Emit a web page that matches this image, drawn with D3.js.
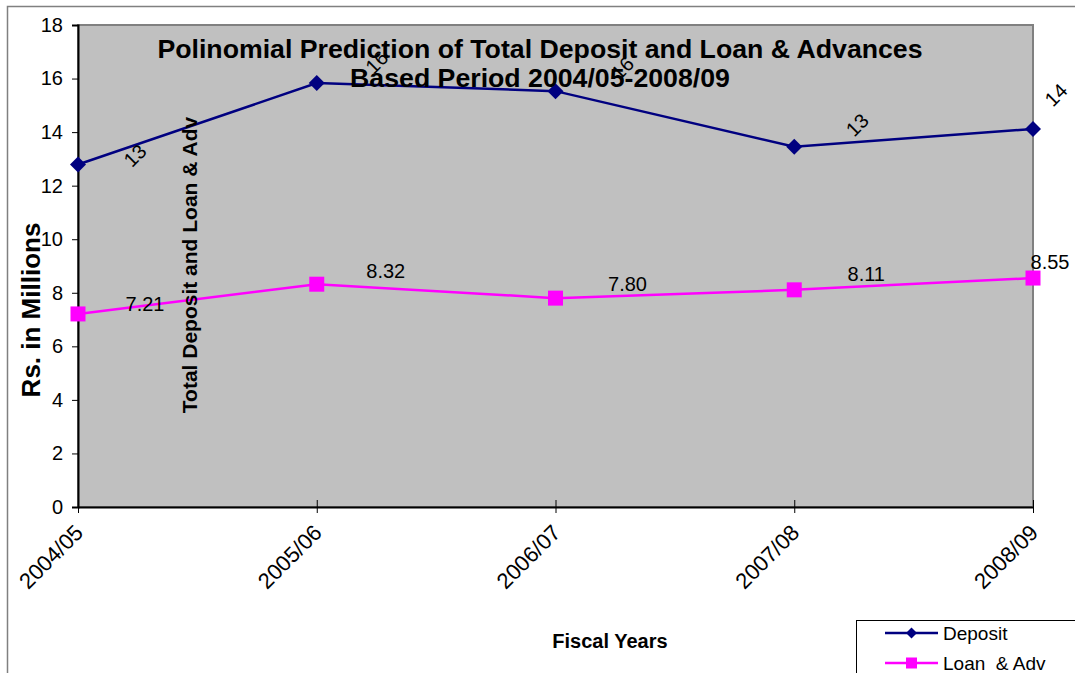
<!DOCTYPE html>
<html>
<head>
<meta charset="utf-8">
<script src="https://cdn.jsdelivr.net/npm/d3@7"></script>
<style>
  html, body { margin: 0; padding: 0; background: #fff; }
  svg { display: block; font-family: "Liberation Sans", Arial, sans-serif; }
</style>
</head>
<body>
<svg id="chart" width="1075" height="673"></svg>
<script>
// ---- data ----
const years = ["2004/05", "2005/06", "2006/07", "2007/08", "2008/09"];
const deposit = [12.79, 15.83, 15.53, 13.45, 14.12];
const depositLabels = ["13", "16", "16", "13", "14"];
const loanAdv = [7.21, 8.32, 7.80, 8.11, 8.55];
const loanLabels = ["7.21", "8.32", "7.80", "8.11", "8.55"];
const yTicks = [0, 2, 4, 6, 8, 10, 12, 14, 16, 18];
const seriesNames = ["Deposit", "Loan  & Adv"];
const titleLines = ["Polinomial Prediction of Total Deposit and Loan & Advances", "Based Period 2004/05-2008/09"];

// ---- layout ----
const W = 1075, H = 673;
const plot = { left: 78, right: 1033, top: 25, bottom: 507 };
const navy = "#000080", magenta = "#FF00FF";
const diamond = r => `M0,${-r}L${r},0L0,${r}L${-r},0Z`;

const svg = d3.select("#chart");

const x = d3.scalePoint().domain(years).range([plot.left, plot.right]);
const y = d3.scaleLinear().domain([0, 18]).range([plot.bottom, plot.top]);

// outer chart border
svg.append("rect")
  .attr("x", 7.5).attr("y", 6.5)
  .attr("width", W + 20).attr("height", H + 20)
  .attr("fill", "#fff").attr("stroke", "#808080").attr("stroke-width", 1.5);

// plot area
svg.append("rect")
  .attr("x", plot.left).attr("y", plot.top)
  .attr("width", plot.right - plot.left).attr("height", plot.bottom - plot.top)
  .attr("fill", "#C0C0C0").attr("stroke", "#808080").attr("stroke-width", 2);

// y axis
const yAxis = svg.append("g")
  .attr("transform", `translate(${plot.left},0)`)
  .call(d3.axisLeft(y).tickValues(yTicks).tickSize(6).tickPadding(9).tickFormat(d3.format("d")));
yAxis.select(".domain").attr("stroke", "#000").attr("stroke-width", 2);
yAxis.selectAll(".tick line").attr("stroke", "#000").attr("stroke-width", 1);
yAxis.selectAll("text").attr("font-size", 20).attr("fill", "#000")
  .attr("font-family", "Liberation Sans, Arial, sans-serif");

// x axis
const xAxis = svg.append("g")
  .attr("transform", `translate(0,${plot.bottom})`)
  .call(d3.axisBottom(x).tickSize(6).tickSizeOuter(0));
xAxis.select(".domain").attr("stroke", "#000").attr("stroke-width", 2);
xAxis.selectAll(".tick line").attr("stroke", "#000").attr("y1", -7).attr("y2", 6);
xAxis.selectAll("text")
  .attr("font-size", 22).attr("fill", "#000")
  .attr("font-family", "Liberation Sans, Arial, sans-serif")
  .attr("text-anchor", "end")
  .attr("dy", null)
  .attr("y", 0).attr("x", 0)
  .attr("transform", "translate(6,27) rotate(-45)");

// lines
const line = d3.line().x((d, i) => x(years[i])).y(d => y(d));

svg.append("path").datum(deposit)
  .attr("d", line).attr("fill", "none").attr("stroke", navy).attr("stroke-width", 2.5);
svg.append("path").datum(loanAdv)
  .attr("d", line).attr("fill", "none").attr("stroke", magenta).attr("stroke-width", 2.5);

// markers
svg.selectAll(".dep").data(deposit).enter().append("path")
  .attr("d", diamond(8))
  .attr("transform", (d, i) => `translate(${x(years[i])},${y(d)})`)
  .attr("fill", navy);
svg.selectAll(".loan").data(loanAdv).enter().append("rect")
  .attr("x", (d, i) => x(years[i]) - 7.5).attr("y", d => y(d) - 7.5)
  .attr("width", 15).attr("height", 15).attr("fill", magenta);

// data labels: deposit (rotated)
const depOffsets = [[57, -9], [60, -21], [67, -23], [63, -22], [23, -34]];
svg.selectAll(".deplab").data(deposit).enter().append("text")
  .attr("transform", (d, i) => `translate(${x(years[i]) + depOffsets[i][0]},${y(d) + depOffsets[i][1]}) rotate(-45)`)
  .attr("text-anchor", "middle").attr("dy", "0.35em")
  .attr("font-size", 20).attr("fill", "#000")
  .text((d, i) => depositLabels[i]);

// data labels: loan
const loanOffsets = [[67, -10], [69, -13], [72, -14], [72, -16], [17, -16]];
svg.selectAll(".loanlab").data(loanAdv).enter().append("text")
  .attr("x", (d, i) => x(years[i]) + loanOffsets[i][0])
  .attr("y", (d, i) => y(d) + loanOffsets[i][1])
  .attr("text-anchor", "middle").attr("dy", "0.35em")
  .attr("font-size", 20).attr("fill", "#000")
  .text((d, i) => loanLabels[i]);

// title
svg.append("text").attr("x", 540).attr("y", 58)
  .attr("text-anchor", "middle").attr("font-size", 26.7).attr("font-weight", "bold")
  .text(titleLines[0]);
svg.append("text").attr("x", 540).attr("y", 87)
  .attr("text-anchor", "middle").attr("font-size", 26.7).attr("font-weight", "bold")
  .text(titleLines[1]);

// inner rotated label
svg.append("text")
  .attr("transform", "translate(197,265) rotate(-90)")
  .attr("text-anchor", "middle").attr("font-size", 21).attr("font-weight", "bold")
  .text("Total Deposit and Loan & Adv");

// y axis title
svg.append("text")
  .attr("transform", "translate(40,310) rotate(-90)")
  .attr("text-anchor", "middle").attr("font-size", 26).attr("font-weight", "bold")
  .text("Rs. in Millions");

// x axis title
svg.append("text")
  .attr("x", 610).attr("y", 648)
  .attr("text-anchor", "middle").attr("font-size", 20).attr("font-weight", "bold")
  .text("Fiscal Years");

// legend
const lg = svg.append("g");
lg.append("rect").attr("x", 856.5).attr("y", 620.5).attr("width", 240).attr("height", 80)
  .attr("fill", "#fff").attr("stroke", "#000").attr("stroke-width", 1);
const legendColors = [navy, magenta];
const legendY = [633, 663];
seriesNames.forEach((name, i) => {
  lg.append("line").attr("x1", 885).attr("x2", 938).attr("y1", legendY[i]).attr("y2", legendY[i])
    .attr("stroke", legendColors[i]).attr("stroke-width", 2.5);
  if (i === 0) {
    lg.append("path").attr("d", diamond(5.5))
      .attr("transform", `translate(911.5,${legendY[i]})`).attr("fill", navy);
  } else {
    lg.append("rect").attr("x", 906).attr("y", legendY[i] - 5.5).attr("width", 11).attr("height", 11)
      .attr("fill", magenta);
  }
  lg.append("text").attr("x", 943).attr("y", legendY[i]).attr("dy", "0.35em")
    .attr("font-size", 19).attr("fill", "#000").attr("xml:space", "preserve")
    .style("white-space", "pre")
    .text(name);
});
</script>
</body>
</html>
